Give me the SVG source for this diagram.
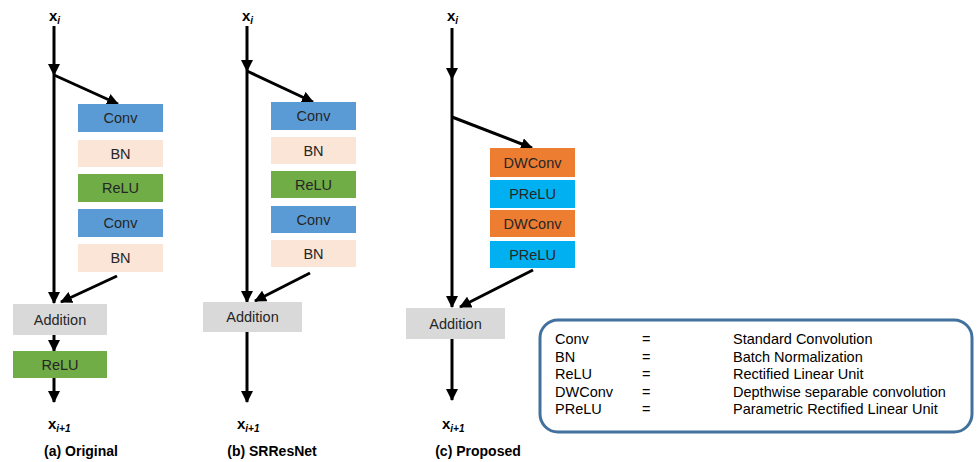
<svg xmlns="http://www.w3.org/2000/svg" width="977" height="462" viewBox="0 0 977 462">
<style>
  .lbl { font-family: "Liberation Sans", Arial, sans-serif; font-size: 14.5px; fill: #262626; text-anchor: middle; }
  .var { font-family: "Liberation Sans", Arial, sans-serif; font-size: 15px; font-weight: bold; fill: #000; }
  .sub { font-size: 10px; font-style: italic; }
  .cap { font-family: "Liberation Sans", Arial, sans-serif; font-size: 14px; font-weight: bold; fill: #000; text-anchor: middle; }
  .leg { font-family: "Liberation Sans", Arial, sans-serif; font-size: 14.5px; fill: #000; }
  .conv { fill: #5B9BD5; }
  .bn { fill: #FBE5D6; }
  .relu { fill: #70AD47; }
  .dw { fill: #ED7D31; }
  .prelu { fill: #00B0F0; }
  .add { fill: #D9D9D9; }
  .edge { stroke: #000; stroke-width: 3; fill: none; marker-end: url(#ah); }
</style>
<defs>
  <marker id="ah" markerUnits="userSpaceOnUse" markerWidth="12" markerHeight="12" viewBox="0 0 12 12" refX="11" refY="6" orient="auto">
    <path d="M0,0 L12,6 L0,12 z" fill="#000"/>
  </marker>
</defs>
<rect width="977" height="462" fill="#fff"/>

<g id="connectors">
  <path class="edge" d="M54,26 L54,75"/>
  <path class="edge" d="M54,75 L54,303"/>
  <path class="edge" d="M54,75 L118,104"/>
  <path class="edge" d="M117,276 L61,302"/>
  <path class="edge" d="M54,335 L54,351"/>
  <path class="edge" d="M54,378 L54,402"/>
  <path class="edge" d="M247,26 L247,71"/>
  <path class="edge" d="M247,71 L247,302"/>
  <path class="edge" d="M247,71 L313,102"/>
  <path class="edge" d="M310,273 L255,301"/>
  <path class="edge" d="M247,332 L247,402"/>
  <path class="edge" d="M452,28 L452,79"/>
  <path class="edge" d="M452,79 L452,307"/>
  <path class="edge" d="M452,117 L532,148"/>
  <path class="edge" d="M533,270 L460,307"/>
  <path class="edge" d="M452,339 L452,400"/>
</g>

<g id="a-xi"><text class="var" x="49" y="21">x<tspan class="sub" dy="3">i</tspan></text></g>
<g id="a-conv1"><rect class="conv" x="78" y="104" width="85" height="28"/><text class="lbl" x="120.5" y="123">Conv</text></g>
<g id="a-bn1"><rect class="bn" x="78" y="140" width="85" height="27"/><text class="lbl" x="120.5" y="158.5">BN</text></g>
<g id="a-relu1"><rect class="relu" x="78" y="174" width="85" height="28"/><text class="lbl" x="120.5" y="193">ReLU</text></g>
<g id="a-conv2"><rect class="conv" x="78" y="209" width="85" height="28"/><text class="lbl" x="120.5" y="228">Conv</text></g>
<g id="a-bn2"><rect class="bn" x="78" y="244" width="85" height="28"/><text class="lbl" x="120.5" y="263">BN</text></g>
<g id="a-add"><rect class="add" x="13" y="304" width="94" height="31"/><text class="lbl" x="60" y="324.5">Addition</text></g>
<g id="a-relu2"><rect class="relu" x="13" y="351" width="94" height="27"/><text class="lbl" x="60" y="369.5">ReLU</text></g>
<g id="a-xi1"><text class="var" x="48" y="429">x<tspan class="sub" dy="3">i+1</tspan></text></g>
<g id="a-cap"><text class="cap" x="81" y="456">(a) Original</text></g>

<g id="b-xi"><text class="var" x="242" y="21">x<tspan class="sub" dy="3">i</tspan></text></g>
<g id="b-conv1"><rect class="conv" x="271" y="102" width="85" height="28"/><text class="lbl" x="313.5" y="121">Conv</text></g>
<g id="b-bn1"><rect class="bn" x="271" y="137" width="85" height="27"/><text class="lbl" x="313.5" y="155.5">BN</text></g>
<g id="b-relu"><rect class="relu" x="271" y="171" width="85" height="27"/><text class="lbl" x="313.5" y="189.5">ReLU</text></g>
<g id="b-conv2"><rect class="conv" x="271" y="206" width="85" height="27"/><text class="lbl" x="313.5" y="224.5">Conv</text></g>
<g id="b-bn2"><rect class="bn" x="271" y="240" width="85" height="27"/><text class="lbl" x="313.5" y="258.5">BN</text></g>
<g id="b-add"><rect class="add" x="203" y="302" width="99" height="30"/><text class="lbl" x="252.5" y="322">Addition</text></g>
<g id="b-xi1"><text class="var" x="237" y="429">x<tspan class="sub" dy="3">i+1</tspan></text></g>
<g id="b-cap"><text class="cap" x="272" y="456">(b) SRResNet</text></g>

<g id="c-xi"><text class="var" x="447" y="21">x<tspan class="sub" dy="3">i</tspan></text></g>
<g id="c-dw1"><rect class="dw" x="490" y="148" width="85" height="29"/><text class="lbl" x="532.5" y="167.5">DWConv</text></g>
<g id="c-prelu1"><rect class="prelu" x="490" y="180" width="85" height="28"/><text class="lbl" x="532.5" y="199">PReLU</text></g>
<g id="c-dw2"><rect class="dw" x="490" y="210" width="85" height="27"/><text class="lbl" x="532.5" y="228.5">DWConv</text></g>
<g id="c-prelu2"><rect class="prelu" x="490" y="241" width="85" height="27"/><text class="lbl" x="532.5" y="259.5">PReLU</text></g>
<g id="c-add"><rect class="add" x="406" y="308" width="99" height="31"/><text class="lbl" x="455.5" y="328.5">Addition</text></g>
<g id="c-xi1"><text class="var" x="442" y="429">x<tspan class="sub" dy="3">i+1</tspan></text></g>
<g id="c-cap"><text class="cap" x="478" y="456">(c) Proposed</text></g>

<g id="legend">
  <rect x="540" y="320" width="432" height="112" rx="18" ry="18" fill="#fff" stroke="#41719C" stroke-width="3"/>
  <text class="leg" x="555" y="344">Conv</text>
  <text class="leg" x="642" y="344">=</text>
  <text class="leg" x="733" y="344">Standard Convolution</text>
  <text class="leg" x="555" y="361.5">BN</text>
  <text class="leg" x="642" y="361.5">=</text>
  <text class="leg" x="733" y="361.5">Batch Normalization</text>
  <text class="leg" x="555" y="379">ReLU</text>
  <text class="leg" x="642" y="379">=</text>
  <text class="leg" x="733" y="379">Rectified Linear Unit</text>
  <text class="leg" x="555" y="396.5">DWConv</text>
  <text class="leg" x="642" y="396.5">=</text>
  <text class="leg" x="733" y="396.5">Depthwise separable convolution</text>
  <text class="leg" x="555" y="414">PReLU</text>
  <text class="leg" x="642" y="414">=</text>
  <text class="leg" x="733" y="414">Parametric Rectified Linear Unit</text>
</g>
</svg>
